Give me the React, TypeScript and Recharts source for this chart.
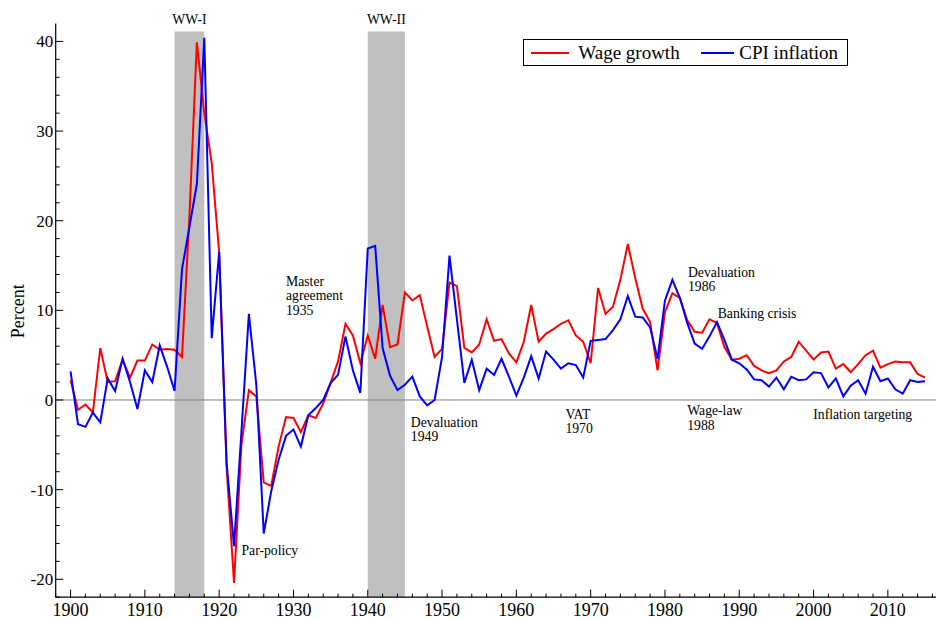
import React from 'react';
import { LineChart, Line, XAxis, YAxis, ReferenceArea, ReferenceLine, ReferenceDot, Legend } from 'recharts';

const FONT = '"Liberation Serif", "DejaVu Serif", "Times New Roman", serif';

const startYear = 1900;
const wageGrowth = [
  2.2, -1.1, -0.5, -1.4, 5.8, 2.0, 2.1, 4.5, 2.5, 4.4,
  4.4, 6.2, 5.6, 5.7, 5.6, 4.8, 20.5, 39.9, 32.0, 26.4,
  16.5, -7.5, -20.4, -5.0, 1.1, 0.4, -9.2, -9.6, -5.2, -1.9,
  -2.0, -3.6, -1.7, -2.0, -0.4, 1.9, 4.3, 8.5, 7.2, 4.1,
  7.2, 4.6, 10.6, 5.9, 6.2, 12.0, 11.1, 11.7, 8.2, 4.8,
  5.7, 13.1, 12.7, 5.8, 5.3, 6.2, 9.0, 6.6, 6.8, 5.2,
  4.2, 6.5, 10.6, 6.5, 7.4, 7.9, 8.5, 8.9, 7.2, 6.5,
  4.1, 12.5, 9.6, 10.4, 13.4, 17.4, 13.6, 10.2, 8.7, 3.3,
  9.8, 11.9, 11.4, 8.9, 7.6, 7.5, 9.0, 8.6, 5.9, 4.5,
  4.6, 5.0, 3.8, 3.3, 3.0, 3.3, 4.3, 4.8, 6.5, 5.5,
  4.5, 5.3, 5.4, 3.5, 4.0, 3.1, 4.0, 5.0, 5.5, 3.6,
  4.0, 4.3, 4.2, 4.2, 2.9, 2.5,
];
const cpiInflation = [
  3.2, -2.7, -3.0, -1.4, -2.5, 2.4, 1.0, 4.6, 2.0, -1.0,
  3.3, 2.0, 6.1, 3.7, 1.0, 14.6, 19.3, 24.1, 40.4, 6.9,
  16.5, -7.0, -16.3, -3.5, 9.6, 1.7, -14.9, -10.2, -6.7, -4.0,
  -3.3, -5.2, -1.7, -0.9, 0.0, 1.9, 2.8, 7.1, 3.3, 0.8,
  16.9, 17.2, 5.8, 2.7, 1.1, 1.7, 2.6, 0.4, -0.6, 0.0,
  4.8, 16.1, 9.0, 1.9, 4.5, 1.1, 3.5, 2.8, 4.6, 2.6,
  0.5, 2.5, 4.9, 2.4, 5.4, 4.5, 3.5, 4.1, 3.9, 2.5,
  6.6, 6.7, 6.8, 7.8, 9.0, 11.6, 9.3, 9.2, 8.1, 4.6,
  11.1, 13.4, 11.4, 8.6, 6.3, 5.7, 7.1, 8.7, 6.7, 4.5,
  4.1, 3.4, 2.3, 2.2, 1.5, 2.5, 1.2, 2.6, 2.2, 2.3,
  3.1, 3.0, 1.4, 2.4, 0.4, 1.6, 2.2, 0.7, 3.7, 2.1,
  2.4, 1.2, 0.7, 2.2, 2.0, 2.1,
];
const years = wageGrowth.map((_, i) => startYear + i);

const xTicks = [1898, 1900, 1902, 1904, 1906, 1908, 1910, 1912, 1914, 1916, 1918, 1920, 1922, 1924, 1926, 1928, 1930, 1932, 1934, 1936, 1938, 1940, 1942, 1944, 1946, 1948, 1950, 1952, 1954, 1956, 1958, 1960, 1962, 1964, 1966, 1968, 1970, 1972, 1974, 1976, 1978, 1980, 1982, 1984, 1986, 1988, 1990, 1992, 1994, 1996, 1998, 2000, 2002, 2004, 2006, 2008, 2010, 2012, 2014, 2016, 2018];
const yTicks = [-22, -20, -18, -16, -14, -12, -10, -8, -6, -4, -2, 0, 2, 4, 6, 8, 10, 12, 14, 16, 18, 20, 22, 24, 26, 28, 30, 32, 34, 36, 38, 40];

const wars = [
  { name: 'WW-I', from: 1914, to: 1918 },
  { name: 'WW-II', from: 1940, to: 1945 },
];

const annotations = [
  { lines: ['Master', 'agreement', '1935'], year: 1929.0, value: 12.7 },
  { lines: ['Par-policy'], year: 1923.0, value: -17.3 },
  { lines: ['Devaluation', '1949'], year: 1945.8, value: -3.0 },
  { lines: ['VAT', '1970'], year: 1966.6, value: -2.1 },
  { lines: ['Devaluation', '1986'], year: 1983.1, value: 13.7 },
  { lines: ['Banking crisis'], year: 1987.1, value: 9.15 },
  { lines: ['Wage-law', '1988'], year: 1983.0, value: -1.73 },
  { lines: ['Inflation targeting'], year: 1999.96, value: -2.1 },
];

const seriesKeys = ['wage', 'cpi'];
const seriesNames: Record<string, string> = { wage: 'Wage growth', cpi: 'CPI inflation' };

const data = years.map((y, i) => ({ year: y, wage: wageGrowth[i], cpi: cpiInflation[i] }));

const XTick = (props: any) => {
  const { x, y, payload } = props;
  const v = payload.value;
  const major = v % 10 === 0;
  return (
    <g>
      <line x1={x} x2={x} y1={y} y2={y - (major ? 7.5 : 3.5)} stroke="#000" strokeWidth={1} />
      {major && (
        <text x={x} y={y + 18.5} textAnchor="middle" fontSize={18} fontFamily={FONT} fill="#000">
          {v}
        </text>
      )}
    </g>
  );
};

const YTick = (props: any) => {
  const { x, y, payload } = props;
  const v = payload.value;
  const major = v % 10 === 0;
  return (
    <g>
      <line x1={x} x2={x + (major ? 7.5 : 4)} y1={y} y2={y} stroke="#000" strokeWidth={1} />
      {major && (
        <text x={x - 2.5} y={y} dy="0.35em" textAnchor="end" fontSize={17} fontFamily={FONT} fill="#000">
          {v}
        </text>
      )}
    </g>
  );
};

const legendPos = [
  { line: 7.3, width: 38, text: 54.6 },
  { line: 177, width: 33, text: 215.6 },
];

const LegendBox = (props: any) => {
  const payload = [...(props.payload || [])].sort(
    (a: any, b: any) => seriesKeys.indexOf(a.dataKey) - seriesKeys.indexOf(b.dataKey)
  );
  return (
    <div
      style={{
        position: 'relative',
        width: 325.6,
        height: 26.7,
        boxSizing: 'border-box',
        border: '1px solid #000',
        background: '#fff',
        fontFamily: FONT,
        fontSize: 19,
      }}
    >
      {payload.map((p: any, i: number) => (
        <React.Fragment key={i}>
          <div
            style={{
              position: 'absolute',
              left: legendPos[i].line,
              top: 12,
              width: legendPos[i].width,
              height: 2,
              background: p.color,
            }}
          />
          <div
            style={{
              position: 'absolute',
              left: legendPos[i].text,
              top: 0,
              lineHeight: '25px',
              whiteSpace: 'nowrap',
              color: '#000',
            }}
          >
            {p.value}
          </div>
        </React.Fragment>
      ))}
    </div>
  );
};

const annotationShape = (lines: string[], anchor: 'start' | 'middle') => (props: any) => {
  const { cx, cy } = props;
  return (
    <text x={cx} y={cy} textAnchor={anchor} fontSize={13.7} fontFamily={FONT} fill="#000">
      {lines.map((l, i) => (
        <tspan key={i} x={cx} dy={i === 0 ? 0 : 14.3}>
          {l}
        </tspan>
      ))}
    </text>
  );
};

export default function App() {
  return (
    <div style={{ position: 'absolute', left: 0, top: 0, width: 936, height: 619, overflow: 'hidden', background: '#fff' }}>
      <LineChart
        width={960}
        height={619}
        data={data}
        margin={{ top: 23.5, right: 12.7, bottom: 0, left: 0 }}
      >
        <XAxis
          dataKey="year"
          type="number"
          domain={[1898, 2018]}
          ticks={xTicks}
          interval={0}
          height={21.8}
          tickSize={0}
          tickMargin={0}
          tick={<XTick />}
          axisLine={{ stroke: '#000', strokeWidth: 1.2 }}
          allowDataOverflow
        />
        <YAxis
          type="number"
          domain={[-22, 42]}
          ticks={yTicks}
          interval={0}
          width={55.7}
          tickSize={0}
          tickMargin={0}
          tick={<YTick />}
          axisLine={{ stroke: '#000', strokeWidth: 1.2 }}
          allowDataOverflow
          label={{
            content: () => (
              <text
                x={18.3}
                y={311.3}
                transform="rotate(-90 18.3 311.3)"
                textAnchor="middle"
                dominantBaseline="central"
                fontSize={18}
                fontFamily={FONT}
                fill="#000"
              >
                Percent
              </text>
            ),
          }}
        />
        {wars.map((w) => (
          <ReferenceArea
            key={w.name}
            x1={w.from}
            x2={w.to}
            y1={-22}
            y2={41.1}
            fill="#C0C0C0"
            fillOpacity={1}
            stroke="none"
          />
        ))}
        <ReferenceLine y={0} stroke="#808080" strokeWidth={1} />
        <Legend
          layout="vertical"
          align="center"
          verticalAlign="middle"
          content={<LegendBox />}
          wrapperStyle={{ position: 'absolute', left: 522.7, top: 39.3, width: 325.6, height: 26.7 }}
        />
        {seriesKeys.map((k) => (
          <Line
            key={k}
            type="linear"
            dataKey={k}
            name={seriesNames[k]}
            stroke={k === 'wage' ? '#FF0000' : '#0000FF'}
            strokeWidth={2}
            dot={false}
            isAnimationActive={false}
          />
        ))}
        {wars.map((w) => (
          <ReferenceDot
            key={'lbl' + w.name}
            x={(w.from + w.to) / 2}
            y={41.9}
            r={0}
            shape={annotationShape([w.name], 'middle')}
          />
        ))}
        {annotations.map((a, i) => (
          <ReferenceDot key={'a' + i} x={a.year} y={a.value} r={0} shape={annotationShape(a.lines, 'start')} />
        ))}
      </LineChart>
    </div>
  );
}
